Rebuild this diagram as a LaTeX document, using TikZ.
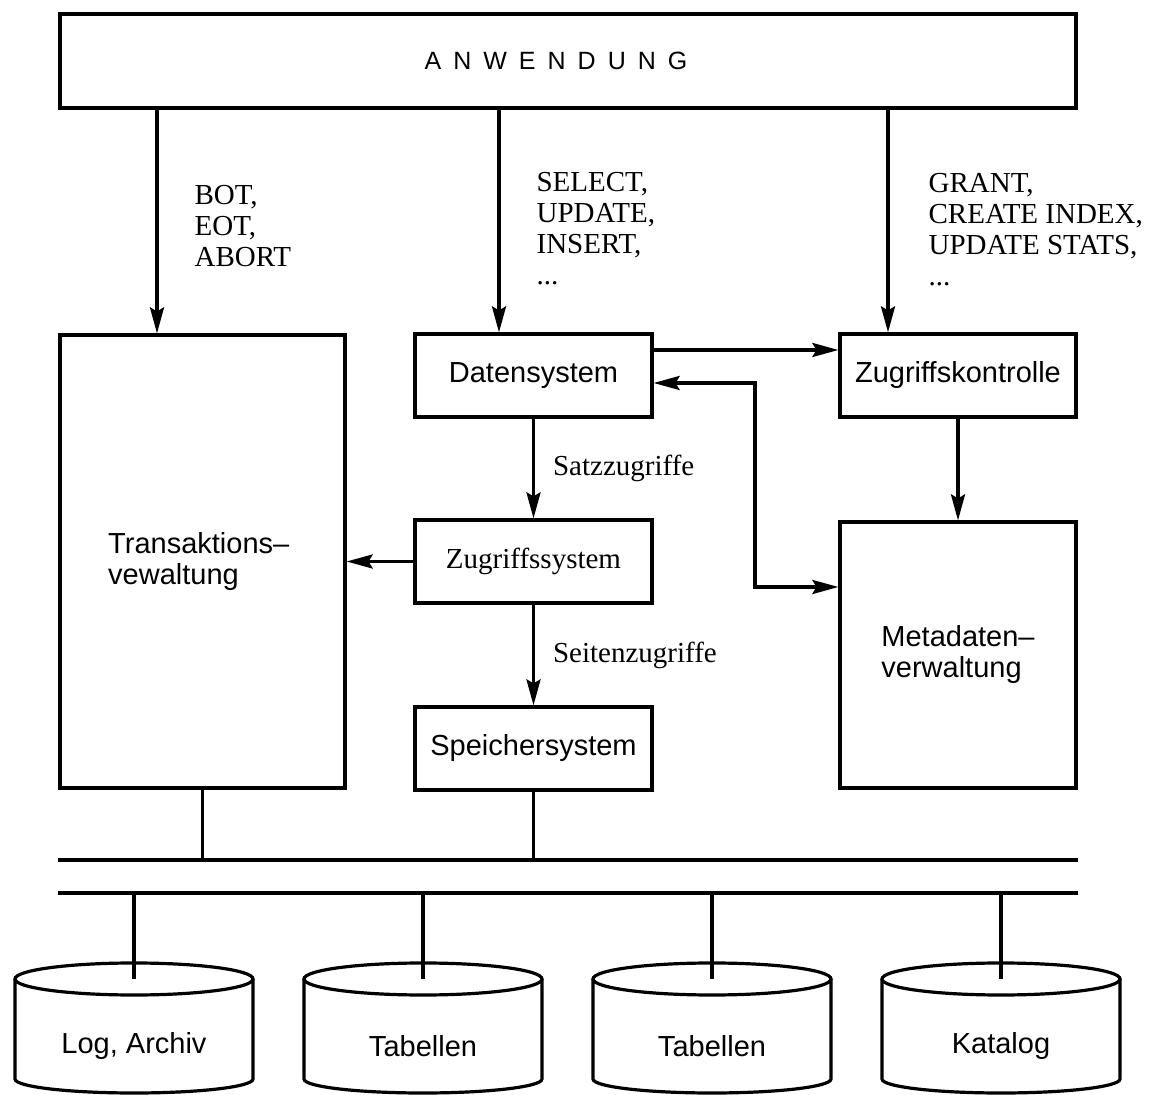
\documentclass[tikz,border=0pt]{standalone}
\usepackage{fontspec}
\setmainfont{Liberation Serif}
\setsansfont{Liberation Sans}
\usetikzlibrary{arrows.meta}

\begin{document}
\begin{tikzpicture}[x=0.5pt, y=-0.5pt, line width=1.6pt,
        >={Stealth[length=13pt, width=7pt, inset=2pt]},
        every node/.style={font=\fontsize{14.5}{15.5}\selectfont},
        box/.style={draw, line width=1.6pt, inner sep=0pt, font=\sffamily\fontsize{14.5}{15.5}\selectfont},
        lbl/.style={inner sep=0pt, align=left}]
            \useasboundingbox (0,0) rectangle (1152,1095);

            % Kaesten
            \node[box, minimum width=508pt, minimum height=47pt] (anw) at (568,61) {\fontsize{12.5}{14}\selectfont\spaceskip=6pt A N W E N D U N G\hspace*{12pt}};
            \node[box, minimum width=142.5pt, minimum height=226.5pt, align=left] (trans) at (202.5,561.5) {Transaktions–\\vewaltung\hspace*{2em}};
            \node[box, minimum width=118.5pt, minimum height=41.5pt] (dat) at (533.5,375.5) {Datensystem};
            \node[box, minimum width=118.5pt, minimum height=41.5pt, font=\rmfamily\fontsize{14.5}{15.5}\selectfont] (zs) at (533.5,561.5) {Zugriffssystem};
            \node[box, minimum width=118.5pt, minimum height=41.5pt] (sp) at (533.5,748.5) {Speichersystem};
            \node[box, minimum width=118pt, minimum height=41.5pt] (zk) at (958,375.5) {Zugriffskontrolle};
            \node[box, minimum width=118pt, minimum height=133pt, align=left] (meta) at (958,655) {Metadaten–\\verwaltung};

            % Aufrufe der Anwendung
            \coordinate (ta) at (157,0);
            \coordinate (da) at (499,0);
            \coordinate (ka) at (888,0);
            \draw[->] (anw.south -| ta) -- (trans.north -| ta);
            \draw[->] (anw.south -| da) -- (dat.north -| da);
            \draw[->] (anw.south -| ka) -- (zk.north -| ka);
            \node[lbl, anchor=north west] (tlbl) at (193,184) {BOT,\\EOT,\\ABORT};
            \node[lbl, anchor=north west] (dlbl) at (535,171) {SELECT,\\UPDATE,\\INSERT,\\...};
            \node[lbl, anchor=north west] (klbl) at (927,172) {GRANT,\\CREATE INDEX,\\UPDATE STATS,\\...};

            % interne Pfeile
            \coordinate (d1) at (0,350);
            \coordinate (d2) at (755,383);
            \coordinate (d3) at (755,587);
            \draw[->] (dat.east |- d1) -- (zk.west |- d1);
            \draw[<->] (dat.east |- d2) -- (d2) -- (d3) -- (meta.west |- d3);
            \draw[->] (zk.south -| meta.north) -- (meta.north);
            \draw[->] (dat) -- (zs) node[lbl, anchor=west, pos=0.5, xshift=9pt] (slbl) {Satzzugriffe};
            \draw[->] (zs) -- (sp) node[lbl, anchor=west, pos=0.5, xshift=9pt] (plbl) {Seitenzugriffe};
            \draw[->] (zs.west) -- (trans.east |- zs.west);

            % Busse
            \coordinate (bus1w) at (58,860);
            \coordinate (bus1e) at (1078,860);
            \coordinate (bus2w) at (58,893);
            \coordinate (bus2e) at (1078,893);
            \draw (bus1w) -- (bus1e);
            \draw (bus2w) -- (bus2e);
            \draw (trans.south) -- (trans.south |- bus1w);
            \draw (sp.south) -- (sp.south |- bus1w);

            % Platten
            \coordinate (log) at (134,979);
            \coordinate (tab1) at (423,979);
            \coordinate (tab2) at (712,979);
            \coordinate (kat) at (1001,979);
            \draw (log |- bus2w) -- (log);
            \draw (tab1 |- bus2w) -- (tab1);
            \draw (tab2 |- bus2w) -- (tab2);
            \draw (kat |- bus2w) -- (kat);
            \draw (log) ellipse[x radius=59.5pt, y radius=8pt];
            \draw ([xshift=-59.5pt]log) -- ++(0,100) arc[start angle=180, end angle=360, x radius=59.5pt, y radius=7pt] -- ([xshift=59.5pt]log);
            \draw (tab1) ellipse[x radius=59.5pt, y radius=8pt];
            \draw ([xshift=-59.5pt]tab1) -- ++(0,100) arc[start angle=180, end angle=360, x radius=59.5pt, y radius=7pt] -- ([xshift=59.5pt]tab1);
            \draw (tab2) ellipse[x radius=59.5pt, y radius=8pt];
            \draw ([xshift=-59.5pt]tab2) -- ++(0,100) arc[start angle=180, end angle=360, x radius=59.5pt, y radius=7pt] -- ([xshift=59.5pt]tab2);
            \draw (kat) ellipse[x radius=59.5pt, y radius=8pt];
            \draw ([xshift=-59.5pt]kat) -- ++(0,100) arc[start angle=180, end angle=360, x radius=59.5pt, y radius=7pt] -- ([xshift=59.5pt]kat);
            \node[font=\sffamily\fontsize{14.5}{15.5}\selectfont] (logt) at (134,1046) {Log, Archiv};
            \node[font=\sffamily\fontsize{14.5}{15.5}\selectfont] (tab1t) at (423,1046) {Tabellen};
            \node[font=\sffamily\fontsize{14.5}{15.5}\selectfont] (tab2t) at (712,1046) {Tabellen};
            \node[font=\sffamily\fontsize{14.5}{15.5}\selectfont] (katt) at (1001,1046) {Katalog};
        \end{tikzpicture}
\end{document}
